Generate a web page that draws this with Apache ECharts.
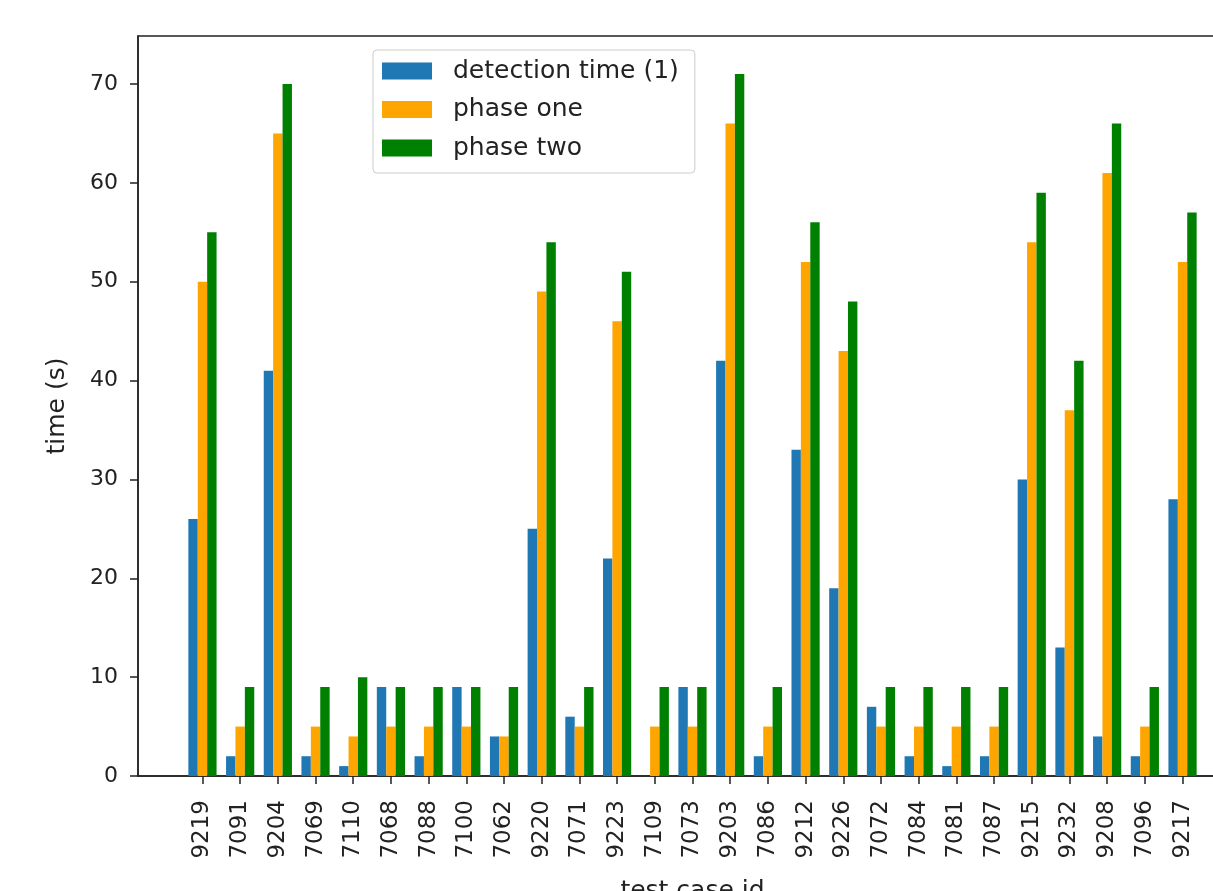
<!DOCTYPE html>
<html>
<head>
<meta charset="utf-8">
<script src="https://cdn.jsdelivr.net/npm/echarts@6/dist/echarts.min.js"></script>
<style>
    html, body { margin: 0; padding: 0; background: #fff; overflow: hidden; }
    #chart { width: 1213px; height: 891px; }
</style>
</head>
<body>
<div id="chart"></div>
<script>
// test case ids, in plot order
const caseIds = [
    '9219', '7091', '9204', '7069', '7110', '7068', '7088', '7100', '7062',
    '9220', '7071', '9223', '7109', '7073', '9203', '7086', '9212', '9226',
    '7072', '7084', '7081', '7087', '9215', '9232', '9208', '7096', '9217'
]
const detectionTime = [26, 2, 41, 2, 1, 9, 2, 9, 4, 25, 6, 22, 0, 9, 42, 2, 33, 19, 7, 2, 1, 2, 30, 13, 4, 2, 28]
const phaseOne = [50, 5, 65, 5, 4, 5, 5, 5, 4, 49, 5, 46, 5, 5, 66, 5, 52, 43, 5, 5, 5, 5, 54, 37, 61, 5, 52]
const phaseTwo = [55, 9, 70, 9, 10, 9, 9, 9, 9, 54, 9, 51, 9, 9, 71, 9, 56, 48, 9, 9, 9, 9, 59, 42, 66, 9, 57]
const yTicks = [0, 10, 20, 30, 40, 50, 60, 70]

const FONT = 'DejaVu Sans'
const INK = '#222'

const chart = echarts.init(document.getElementById('chart'), null, { renderer: 'canvas' })

// positions 0..n-1, matplotlib-like margins on either side
const idx = caseIds.map((_, i) => i)
const toPoints = vals => vals.map((v, i) => [i, v])

const makeBar = (name, vals, color) => ({
    name,
    type: 'bar',
    data: toPoints(vals),
    barWidth: 9.4,
    barGap: '0%',
    itemStyle: { color },
    emphasis: { disabled: true }
})

chart.setOption({
    animation: false,
    textStyle: { fontFamily: FONT },
    grid: {
        left: 138,
        top: 36,
        width: 1109,
        height: 740,
        show: true,
        borderColor: INK,
        borderWidth: 1.5,
        containLabel: false,
        outerBoundsMode: 'none'
    },
    legend: {
        orient: 'vertical',
        left: 373,
        top: 50,
        icon: 'rect',
        itemWidth: 50,
        itemHeight: 17,
        itemGap: 12.5,
        padding: [8, 16, 12, 9],
        backgroundColor: 'rgba(255,255,255,0.85)',
        borderColor: '#cccccc',
        borderWidth: 1,
        borderRadius: 4,
        textStyle: {
            fontFamily: FONT,
            fontSize: 25,
            color: INK,
            lineHeight: 26,
            padding: [0, 0, 0, 16]
        },
        data: ['detection time (1)', 'phase one', 'phase two']
    },
    xAxis: {
        type: 'value',
        min: -1.71,
        max: 27.71,
        name: 'test case id',
        nameLocation: 'middle',
        nameGap: 103,
        nameTextStyle: { fontFamily: FONT, fontSize: 25, color: INK },
        splitLine: { show: false },
        axisLine: { show: true, onZero: false, lineStyle: { color: INK, width: 1.5 } },
        axisTick: {
            show: true,
            customValues: idx,
            length: 8,
            lineStyle: { color: INK, width: 1.5 }
        },
        axisLabel: {
            customValues: idx,
            rotate: 90,
            margin: 24,
            fontFamily: FONT,
            fontSize: 23,
            color: INK,
            formatter: v => caseIds[Math.round(v)]
        }
    },
    yAxis: {
        type: 'value',
        min: 0,
        max: 74.85,
        name: 'time (s)',
        nameLocation: 'middle',
        nameGap: 68,
        nameRotate: 90,
        nameTextStyle: { fontFamily: FONT, fontSize: 25, color: INK },
        splitLine: { show: false },
        axisLine: { show: true, onZero: false, lineStyle: { color: INK, width: 1.5 } },
        axisTick: {
            show: true,
            customValues: yTicks,
            length: 8,
            lineStyle: { color: INK, width: 1.5 }
        },
        axisLabel: {
            customValues: yTicks,
            margin: 20,
            fontFamily: FONT,
            fontSize: 22,
            color: INK
        }
    },
    series: [
        makeBar('detection time (1)', detectionTime, '#1f77b4'),
        makeBar('phase one', phaseOne, '#ffa500'),
        makeBar('phase two', phaseTwo, '#008000')
    ]
})
</script>
</body>
</html>
